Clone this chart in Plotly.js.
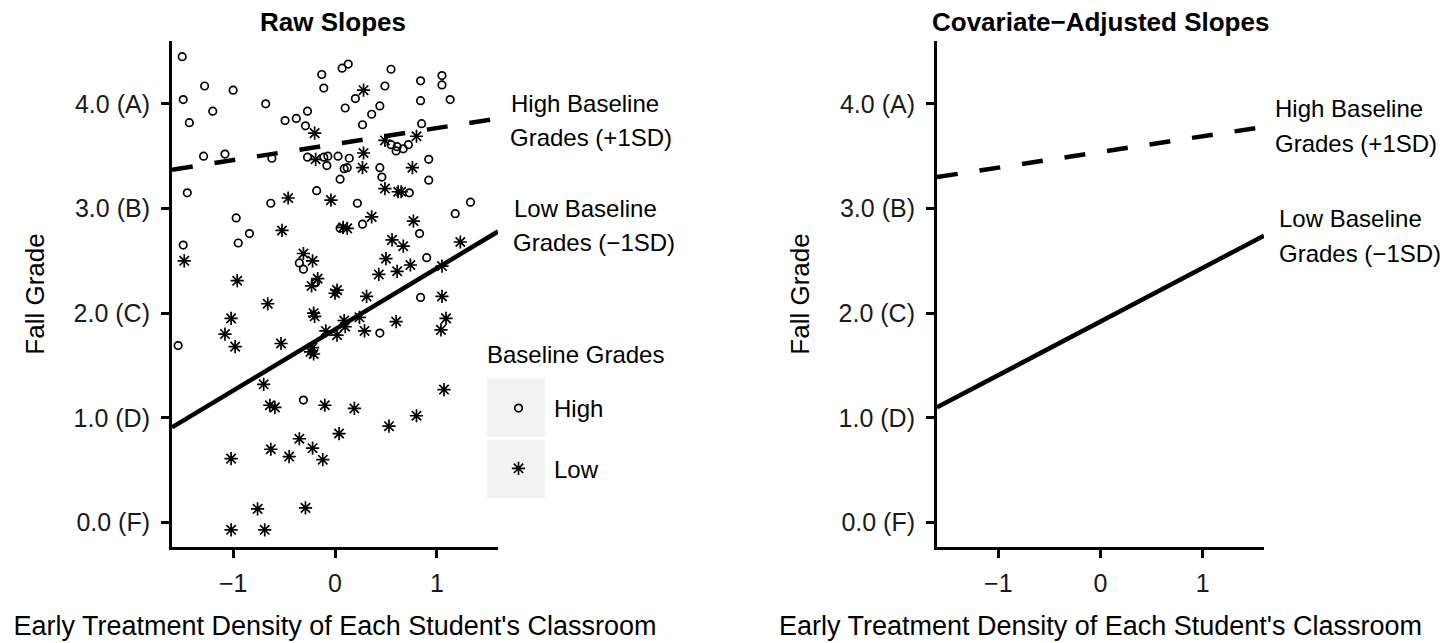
<!DOCTYPE html>
<html>
<head>
<meta charset="utf-8">
<script src="https://cdn.plot.ly/plotly-3.0.1.min.js"></script>
<style>html,body{margin:0;padding:0;background:#fff;}#chart{width:1442px;height:643px;}</style>
</head>
<body>
<div id="chart"></div>
<script>
// ---- data ----
const highX = [-1.50,-1.49,-1.43,-1.28,-1.20,-1.00,-1.29,-1.08,-1.45,-0.68,-0.62,-0.49,-0.38,-0.29,-0.27,-0.27,-0.13,-0.11,0.07,0.13,0.10,0.20,0.27,0.36,0.44,0.49,0.55,0.84,0.84,0.85,1.05,1.05,1.13,-0.11,-0.07,-0.08,0.03,0.05,0.09,0.12,0.14,-0.18,0.44,0.46,0.55,0.60,0.61,0.67,0.72,0.73,0.92,0.92,-0.63,0.22,-0.97,-0.84,-0.95,-1.49,0.27,0.05,1.18,1.33,0.83,0.90,-0.35,-0.31,-0.19,0.84,0.44,-1.54,-0.31];
const highY = [4.45,4.04,3.82,4.17,3.93,4.13,3.50,3.52,3.15,4.00,3.48,3.84,3.86,3.79,3.93,3.49,4.28,4.15,4.34,4.38,3.96,4.05,3.80,3.90,3.98,4.17,4.33,4.22,4.03,3.81,4.27,4.18,4.04,3.49,3.50,3.41,3.50,3.28,3.38,3.39,3.48,3.17,3.39,3.30,3.61,3.55,3.59,3.57,3.61,3.15,3.47,3.27,3.05,3.05,2.91,2.76,2.67,2.65,2.85,2.81,2.95,3.06,2.76,2.53,2.48,2.42,2.29,2.15,1.81,1.69,1.17];
const lowX = [0.28,-0.20,-0.19,0.28,0.27,0.49,0.80,0.76,0.49,0.62,0.65,-0.46,-0.04,0.08,0.12,0.36,0.77,-0.52,1.23,0.56,0.67,-0.31,-0.22,0.50,0.74,1.05,0.43,0.61,-1.48,-0.96,-0.17,-0.23,0.02,0.00,0.31,1.05,-0.66,-1.02,-0.21,-0.20,0.24,1.09,0.60,0.09,0.10,-0.09,0.29,1.04,0.02,-1.08,-0.98,-0.53,-0.22,-0.21,-0.24,-0.70,1.07,-0.64,-0.59,-0.10,0.19,0.80,0.53,0.04,-0.35,-0.63,-0.22,-0.45,-0.12,-1.02,-0.76,-0.29,-1.02,-0.69];
const lowY = [4.13,3.72,3.47,3.53,3.39,3.65,3.69,3.39,3.19,3.16,3.16,3.10,3.08,2.82,2.81,2.92,2.88,2.79,2.68,2.70,2.64,2.57,2.50,2.52,2.46,2.45,2.37,2.40,2.50,2.31,2.33,2.26,2.22,2.19,2.16,2.16,2.09,1.95,2.00,1.97,1.96,1.95,1.92,1.93,1.87,1.83,1.83,1.84,1.79,1.80,1.68,1.71,1.67,1.61,1.63,1.32,1.27,1.12,1.10,1.12,1.09,1.02,0.92,0.85,0.80,0.70,0.71,0.63,0.60,0.61,0.13,0.14,-0.07,-0.07];

const lineX = [-1.6, 1.6];
const rawHighLine = [3.37, 3.86];
const rawLowLine = [0.91, 2.78];
const adjHighLine = [3.30, 3.78];
const adjLowLine = [1.10, 2.74];

const groupNames = ['High', 'Low'];
const xTickVals = [-1, 0, 1];
const yTickVals = [0, 1, 2, 3, 4];
const yTickText = ['0.0 (F)', '1.0 (D)', '2.0 (C)', '3.0 (B)', '4.0 (A)'];
const panelTitles = ['Raw Slopes', 'Covariate\u2212Adjusted Slopes'];
const xTitle = "Early Treatment Density of Each Student's Classroom";
const yTitle = 'Fall Grade';
const highLabel = ['High Baseline', 'Grades (+1SD)'];
const lowLabel = ['Low Baseline', 'Grades (\u22121SD)'];
const legendTitle = 'Baseline Grades';

// ---- styling ----
const FONT = 'Liberation Sans, Arial, Helvetica, sans-serif';
const W = 1442, H = 643;
const px = v => v / W;
const py = v => 1 - v / H;

const traces = [
  {x: highX, y: highY, type: 'scatter', mode: 'markers', name: groupNames[0], legendgroup: 'h',
   marker: {symbol: 'circle-open', size: 7.5, color: '#000', line: {width: 1.7, color: '#000'}},
   xaxis: 'x', yaxis: 'y', cliponaxis: false},
  {x: lowX, y: lowY, type: 'scatter', mode: 'markers', name: groupNames[1], legendgroup: 'l',
   marker: {symbol: 'asterisk-open', size: 11, color: '#000', line: {width: 1.7, color: '#000'}},
   xaxis: 'x', yaxis: 'y', cliponaxis: false},
  {x: lineX, y: rawHighLine, type: 'scatter', mode: 'lines', showlegend: false,
   line: {color: '#000', width: 4.5, dash: '21px,22px'}, xaxis: 'x', yaxis: 'y'},
  {x: lineX, y: rawLowLine, type: 'scatter', mode: 'lines', showlegend: false,
   line: {color: '#000', width: 4.5}, xaxis: 'x', yaxis: 'y'},
  {x: lineX, y: adjHighLine, type: 'scatter', mode: 'lines', showlegend: false,
   line: {color: '#000', width: 4.5, dash: '21px,22px'}, xaxis: 'x2', yaxis: 'y2'},
  {x: lineX, y: adjLowLine, type: 'scatter', mode: 'lines', showlegend: false,
   line: {color: '#000', width: 4.5}, xaxis: 'x2', yaxis: 'y2'}
];

function xAxis(domain, anchor) {
  return {
    domain: domain, anchor: anchor, range: [-1.6, 1.6], tickvals: xTickVals,
    showline: true, linewidth: 3, linecolor: '#000', mirror: false,
    ticks: 'outside', ticklen: 8, tickwidth: 3, tickcolor: '#000',
    showgrid: false, zeroline: false, fixedrange: true,
    tickfont: {size: 25, color: '#1a1a1a', family: FONT}, ticklabelstandoff: 4,
    title: {text: xTitle, font: {size: 27, color: '#000', family: FONT}, standoff: 21}
  };
}
function yAxis(domain, anchor) {
  return {
    domain: domain, anchor: anchor, range: [-0.234, 4.6], tickvals: yTickVals, ticktext: yTickText,
    showline: true, linewidth: 3, linecolor: '#000', mirror: false,
    ticks: 'outside', ticklen: 8, tickwidth: 3, tickcolor: '#000',
    showgrid: false, zeroline: false, fixedrange: true,
    tickfont: {size: 25, color: '#1a1a1a', family: FONT}, ticklabelstandoff: 6,
    title: {text: yTitle, font: {size: 26, color: '#000', family: FONT}, standoff: 22}
  };
}

const yDom = [py(547), py(41)];
const layout = {
  width: W, height: H,
  margin: {l: 0, r: 0, t: 0, b: 0},
  paper_bgcolor: '#fff', plot_bgcolor: '#fff',
  font: {family: FONT, color: '#000', size: 24},
  xaxis: xAxis([px(172), px(498)], 'y'),
  yaxis: yAxis(yDom, 'x'),
  xaxis2: xAxis([px(937), px(1264)], 'y2'),
  yaxis2: yAxis(yDom, 'x2'),
  showlegend: true,
  legend: {
    x: px(483), xanchor: 'left', y: py(386), yanchor: 'top',
    bgcolor: 'rgba(0,0,0,0)', borderwidth: 0,
    font: {size: 24, family: FONT, color: '#000'},
    tracegroupgap: 26, itemwidth: 61
  },
  shapes: [
    {type: 'rect', xref: 'paper', yref: 'paper', x0: px(487), x1: px(545), y0: py(437), y1: py(378),
     fillcolor: '#f2f2f2', line: {width: 0}, layer: 'below'},
    {type: 'rect', xref: 'paper', yref: 'paper', x0: px(487), x1: px(545), y0: py(498), y1: py(440),
     fillcolor: '#f2f2f2', line: {width: 0}, layer: 'below'}
  ],
  annotations: [
    {text: legendTitle, xref: 'paper', yref: 'paper', x: px(485), y: py(354),
     xanchor: 'left', yanchor: 'middle', showarrow: false, font: {size: 24, family: FONT, color: '#000'}},
    {text: '<b>' + panelTitles[0] + '</b>', xref: 'paper', yref: 'paper', x: px(333), y: py(22),
     xanchor: 'center', yanchor: 'middle', showarrow: false, font: {size: 26, family: FONT, color: '#000'}},
    {text: '<b>' + panelTitles[1] + '</b>', xref: 'paper', yref: 'paper', x: px(1100), y: py(22),
     xanchor: 'center', yanchor: 'middle', showarrow: false, font: {size: 26, family: FONT, color: '#000'}},
    {text: highLabel[0], xref: 'paper', yref: 'paper', x: px(509), y: py(103), xanchor: 'left', yanchor: 'middle', showarrow: false, font: {size: 24}},
    {text: highLabel[1], xref: 'paper', yref: 'paper', x: px(508), y: py(137), xanchor: 'left', yanchor: 'middle', showarrow: false, font: {size: 24}},
    {text: lowLabel[0], xref: 'paper', yref: 'paper', x: px(512), y: py(208), xanchor: 'left', yanchor: 'middle', showarrow: false, font: {size: 24}},
    {text: lowLabel[1], xref: 'paper', yref: 'paper', x: px(511), y: py(242), xanchor: 'left', yanchor: 'middle', showarrow: false, font: {size: 24}},
    {text: highLabel[0], xref: 'paper', yref: 'paper', x: px(1273), y: py(109), xanchor: 'left', yanchor: 'middle', showarrow: false, font: {size: 24}},
    {text: highLabel[1], xref: 'paper', yref: 'paper', x: px(1273), y: py(143), xanchor: 'left', yanchor: 'middle', showarrow: false, font: {size: 24}},
    {text: lowLabel[0], xref: 'paper', yref: 'paper', x: px(1277), y: py(218), xanchor: 'left', yanchor: 'middle', showarrow: false, font: {size: 24}},
    {text: lowLabel[1], xref: 'paper', yref: 'paper', x: px(1277), y: py(253), xanchor: 'left', yanchor: 'middle', showarrow: false, font: {size: 24}}
  ]
};

Plotly.newPlot('chart', traces, layout, {displayModeBar: false, staticPlot: true});
</script>
</body>
</html>
